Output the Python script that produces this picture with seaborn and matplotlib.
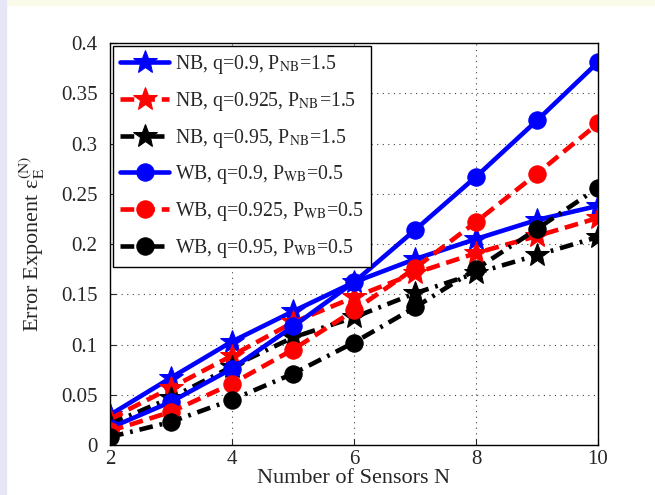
import numpy as np
import pandas as pd
import matplotlib
matplotlib.use("Agg")
import matplotlib.pyplot as plt
import seaborn as sns

# valores
sensores = [2, 3, 4, 5, 6, 7, 8, 9, 10]
nb_09 = [0.030, 0.067, 0.103, 0.133, 0.162, 0.185, 0.205, 0.224, 0.238]
nb_0925 = [0.026, 0.057, 0.089, 0.122, 0.147, 0.171, 0.191, 0.208, 0.226]
nb_095 = [0.021, 0.047, 0.078, 0.107, 0.127, 0.151, 0.171, 0.189, 0.207]
wb_09 = [0.017, 0.043, 0.076, 0.118, 0.162, 0.214, 0.267, 0.323, 0.381]
wb_0925 = [0.014, 0.033, 0.061, 0.095, 0.134, 0.176, 0.222, 0.270, 0.320]
wb_095 = [0.008, 0.023, 0.045, 0.071, 0.102, 0.137, 0.175, 0.215, 0.256]

etiquetas = [
    r"NB, q=0.9, P$_{\rm NB}$=1.5",
    r"NB, q=0.925, P$_{\rm NB}$=1.5",
    r"NB, q=0.95, P$_{\rm NB}$=1.5",
    r"WB, q=0.9, P$_{\rm WB}$=0.5",
    r"WB, q=0.925, P$_{\rm WB}$=0.5",
    r"WB, q=0.95, P$_{\rm WB}$=0.5",
]
series = [nb_09, nb_0925, nb_095, wb_09, wb_0925, wb_095]
colores = ["#0000ff", "#ff0000", "#000000"] * 2
estilos = ["-", (0, (3, 1.5)), (0, (3, 1.5, 0.6, 1.5))] * 2
marcadores = ["*"] * 3 + ["o"] * 3
tam_marc = [18] * 3 + [12.5] * 3

sns.set_style("ticks")
plt.rcParams["font.family"] = ["Liberation Serif", "DejaVu Serif"]
plt.rcParams["mathtext.fontset"] = "stix"

fig = plt.figure(figsize=(6.55, 4.95), dpi=100)
ax = fig.add_axes([0.168, 0.101, 0.745, 0.812])

for vals, lab, c, ls, m, ms in zip(series, etiquetas, colores, estilos, marcadores, tam_marc):
    df = pd.DataFrame({"N": sensores, "E": vals})
    sns.lineplot(data=df, x="N", y="E", ax=ax, color=c, linestyle=ls, linewidth=3.3,
                 marker=m, markersize=ms, markeredgecolor=c, label=lab)

ax.set_xlim(2, 10)
ax.set_ylim(0, 0.4)
ax.set_xticks([2, 4, 6, 8, 10])
ax.set_yticks(np.arange(0, 0.41, 0.05))
ax.set_yticklabels(["0", "0.05", "0.1", "0.15", "0.2", "0.25", "0.3", "0.35", "0.4"])
ax.tick_params(direction="in", labelsize=15, length=4, width=0.8)
ax.tick_params(axis="y", pad=9)
ax.grid(True, linestyle=(0, (1, 4)), color="#444444", linewidth=0.8)
for s in ax.spines.values():
    s.set_linewidth(1.0)
    s.set_color("black")
    s.set_visible(True)

ax.set_xlabel("Number of Sensors N", fontsize=16, labelpad=0)
ax.set_ylabel("Error Exponent ε$_{\\rm E}^{\\rm (N)}$", fontsize=16, labelpad=10)

leg = ax.legend(loc="upper left", fontsize=14.2, handlelength=2.5, borderpad=0.35,
                labelspacing=0.7, handletextpad=0.3, fancybox=False, framealpha=1,
                borderaxespad=0.15)
leg.get_frame().set_edgecolor("black")
leg.get_frame().set_linewidth(1.0)

# franjas de fondo
fig.patches.append(plt.Rectangle((0, 0.99), 1, 0.01, transform=fig.transFigure, color="#fafae8", zorder=-1))
fig.patches.append(plt.Rectangle((0, 0), 0.009, 1, transform=fig.transFigure, color="#e6e6f7", zorder=-1))

plt.savefig("out.png", dpi=100)
plt.close()
